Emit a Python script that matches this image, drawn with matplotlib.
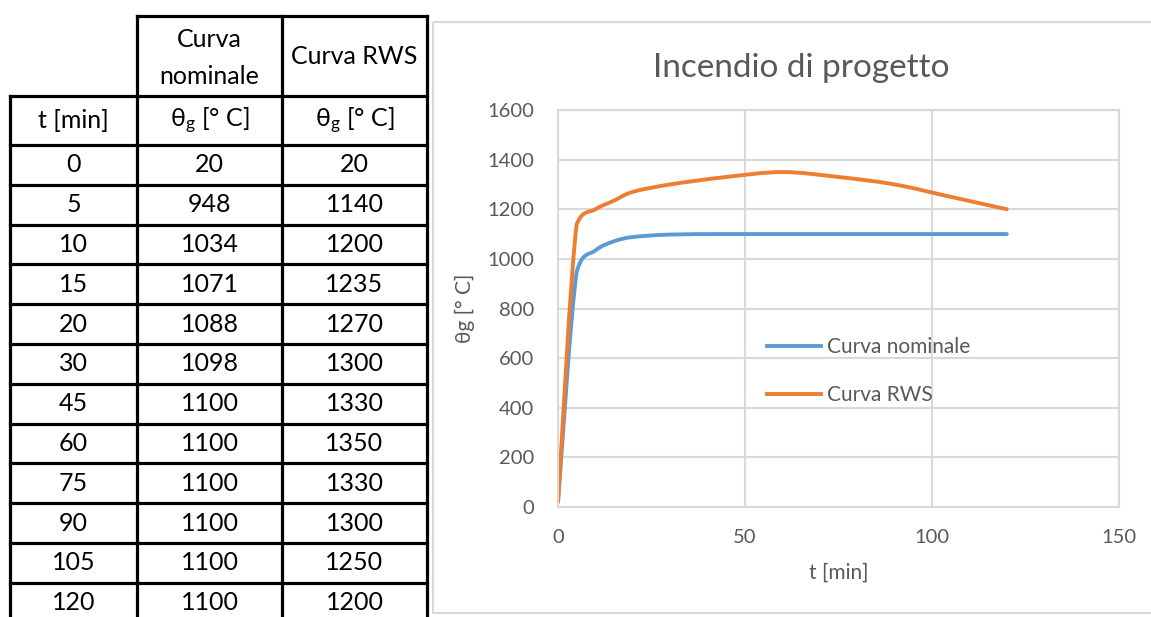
import numpy as np
import matplotlib
matplotlib.use("Agg")
import matplotlib.pyplot as plt
from matplotlib.path import Path
from matplotlib.patches import PathPatch, Rectangle

plt.rcParams['font.family'] = ['Lato', 'DejaVu Sans']
plt.rcParams['mathtext.fontset'] = 'custom'
plt.rcParams['mathtext.rm'] = 'Lato'
plt.rcParams['mathtext.it'] = 'Lato'

# === dati ===
t_min = [0, 5, 10, 15, 20, 30, 45, 60, 75, 90, 105, 120]
curva_nominale = [20, 948, 1034, 1071, 1088, 1098, 1100, 1100, 1100, 1100, 1100, 1100]
curva_rws = [20, 1140, 1200, 1235, 1270, 1300, 1330, 1350, 1330, 1300, 1250, 1200]
x_ticks = [0, 50, 100, 150]
y_ticks = [0, 200, 400, 600, 800, 1000, 1200, 1400, 1600]

GRAY = '#595959'
GRID = '#D9D9D9'
BLUE = '#5B9BD5'
ORANGE = '#ED7D31'

W, H = 1151, 617
fig = plt.figure(figsize=(W / 100, H / 100), dpi=100)

# === tabella a sinistra (coordinate in pixel) ===
tab = fig.add_axes([0, 0, 1, 1])
tab.set_xlim(0, W)
tab.set_ylim(H, 0)
tab.axis('off')

col_x = [10, 137, 282, 427]
head_top, head_bot, unit_bot = 16, 96, 145
row_h = 39.8
n_rows = len(t_min)
row_y = [unit_bot + row_h * k for k in range(n_rows + 1)]
lw = 2.3

# bordi
tab.plot([col_x[1], col_x[3]], [head_top, head_top], color='black', lw=lw)
for x in col_x[1:]:
    tab.plot([x, x], [head_top, H + 5], color='black', lw=lw)
tab.plot([col_x[0], col_x[0]], [head_bot, H + 5], color='black', lw=lw)
for y in [head_bot] + row_y:
    tab.plot([col_x[0], col_x[3]], [y, y], color='black', lw=lw)

fs_tab = 18
cx = [(col_x[i] + col_x[i + 1]) / 2 for i in range(3)]
tab.text(cx[1], (head_top + head_bot) / 2 + 2, "Curva\nnominale", ha='center', va='center',
         fontsize=fs_tab, linespacing=1.75)
tab.text(cx[2], (head_top + head_bot) / 2, "Curva RWS", ha='center', va='center', fontsize=fs_tab)
tab.text(cx[0], (head_bot + unit_bot) / 2, "t [min]", ha='center', va='center', fontsize=fs_tab)
for c in (1, 2):
    tab.text(cx[c], (head_bot + unit_bot) / 2, r"θ$_{\mathrm{g}}$ [° C]", ha='center', va='center',
             fontsize=fs_tab)
for k in range(n_rows):
    yc = (row_y[k] + row_y[k + 1]) / 2
    tab.text(cx[0], yc, str(t_min[k]), ha='center', va='center', fontsize=fs_tab)
    tab.text(cx[1], yc, str(curva_nominale[k]), ha='center', va='center', fontsize=fs_tab)
    tab.text(cx[2], yc, str(curva_rws[k]), ha='center', va='center', fontsize=fs_tab)

# cornice del grafico
tab.add_patch(Rectangle((433, 22), W, 591, fill=False, edgecolor=GRID, lw=1.5))


# === grafico ===
def smooth_path(xs, ys):
    # linea smussata stile Excel (Bezier, punti di controllo limitati al segmento)
    p = np.column_stack([xs, ys]).astype(float)
    verts = [p[0]]
    codes = [Path.MOVETO]
    n = len(p)
    for i in range(n - 1):
        p0 = p[i - 1] if i > 0 else p[i]
        p3 = p[i + 2] if i + 2 < n else p[i + 1]
        c1 = p[i] + (p[i + 1] - p0) / 6
        c2 = p[i + 1] - (p3 - p[i]) / 6
        lo, hi = sorted([p[i][1], p[i + 1][1]])
        c1[1] = min(max(c1[1], lo), hi)
        c2[1] = min(max(c2[1], lo), hi)
        verts += [c1, c2, p[i + 1]]
        codes += [Path.CURVE4] * 3
    return Path(verts, codes)


ax = fig.add_axes([558 / W, 1 - 507 / H, (1119 - 558) / W, (507 - 110) / H])
ax.set_xlim(0, 150)
ax.set_ylim(0, 1600)
ax.set_xticks(x_ticks)
ax.set_yticks(y_ticks)
ax.grid(True, color=GRID, lw=1.5)
ax.set_axisbelow(True)
for s in ax.spines.values():
    s.set_color(GRID)
    s.set_linewidth(1.5)
ax.tick_params(length=0, labelsize=14.5, colors=GRAY)
ax.tick_params(axis='x', pad=16)
ax.tick_params(axis='y', pad=17)

for ys, col, lab in [(curva_nominale, BLUE, "Curva nominale"), (curva_rws, ORANGE, "Curva RWS")]:
    ax.add_patch(PathPatch(smooth_path(t_min, ys), fill=False, edgecolor=col, lw=2.8,
                           capstyle='round', joinstyle='round'))
    ax.plot([], [], color=col, lw=2.8, label=lab)

ax.set_xlabel("t [min]", fontsize=15, color=GRAY, labelpad=12)
ax.set_ylabel("θg [° C]", fontsize=15, color=GRAY, labelpad=9)
fig.text(801 / W, 1 - 68 / H, "Incendio di progetto", fontsize=24, color=GRAY,
         ha='center', va='center')

ax.legend(loc='upper left', bbox_to_anchor=(767 / W, 1 - 337 / H), bbox_transform=fig.transFigure,
          frameon=False, fontsize=15, handlelength=2.6, handletextpad=0.3, labelspacing=1.35,
          borderpad=0, borderaxespad=0, labelcolor=GRAY)

fig.savefig("out.png", dpi=100)
